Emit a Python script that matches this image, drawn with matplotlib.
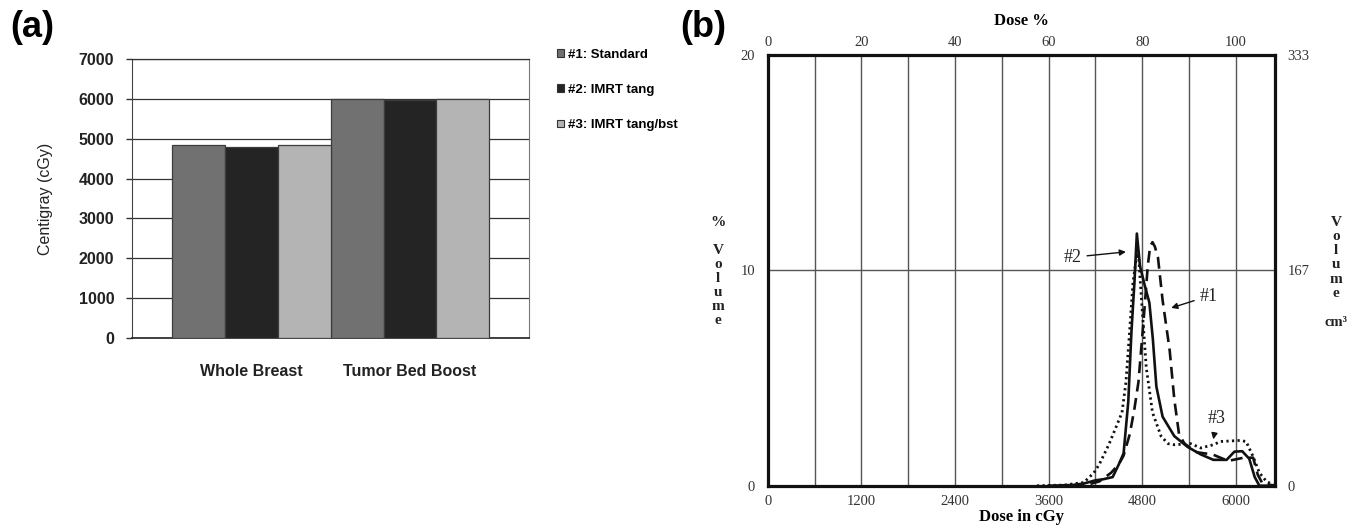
import matplotlib.pyplot as plt
from matplotlib.patches import Patch
import numpy as np

# ---- panel (a): prescribed dose per plan ----
regions = ['Whole Breast', 'Tumor Bed Boost']
plans = ['#1: Standard', '#2: IMRT tang', '#3: IMRT tang/bst']
dose_standard = [4840, 6000]
dose_imrt_tang = [4800, 5960]
dose_imrt_bst = [4840, 5990]
yticks_a = [0, 1000, 2000, 3000, 4000, 5000, 6000, 7000]

# ---- panel (b): differential DVH, dose in cGy vs % volume ----
dose_1 = [3900, 4100, 4250, 4400, 4500, 4560, 4640, 4700, 4750, 4810, 4870, 4900, 4930, 4960,
          5000, 5060, 5150, 5210, 5270, 5340, 5500, 5700, 5900, 6100, 6220, 6280, 6340, 6420, 6500]
vol_1 = [0, 0.05, 0.2, 0.6, 1.0, 1.4, 2.4, 3.6, 4.8, 7.4, 10.2, 11.1, 11.3, 11.1,
         10.6, 8.6, 6.3, 4.0, 2.4, 1.95, 1.55, 1.45, 1.15, 1.3, 1.3, 0.5, 0.1, 0.05, 0]

dose_2 = [3600, 3900, 4050, 4200, 4300, 4420, 4500, 4560, 4620, 4660, 4700, 4730, 4770, 4830, 4890,
          4935, 4980, 5060, 5210, 5380, 5550, 5710, 5880, 5980, 6080, 6170, 6240, 6300, 6500]
vol_2 = [0, 0.03, 0.1, 0.25, 0.3, 0.4, 1.0, 1.5, 3.9, 7.1, 9.5, 11.7, 10.2, 9.3, 8.5,
         6.8, 4.6, 3.2, 2.3, 1.8, 1.45, 1.2, 1.2, 1.58, 1.6, 1.25, 0.4, 0, 0]

dose_3 = [3450, 3800, 4050, 4180, 4250, 4370, 4450, 4540, 4590, 4630, 4680, 4720, 4750, 4790, 4850,
          4930, 5040, 5130, 5210, 5420, 5550, 5710, 5800, 6050, 6130, 6220, 6300, 6390, 6470, 6500]
vol_3 = [0, 0.03, 0.15, 0.6, 1.0, 1.9, 2.6, 3.4, 4.8, 6.8, 9.4, 10.5, 10.8, 8.6, 5.5,
         3.4, 2.3, 1.95, 1.9, 1.95, 1.75, 1.9, 2.05, 2.1, 2.05, 1.35, 0.6, 0.2, 0.05, 0]

dose_ticks = [0, 1200, 2400, 3600, 4800, 6000]
pct_ticks = [0, 20, 40, 60, 80, 100]
cc_ticks = [0, 167, 333]

SANS = 'Liberation Sans'
SERIF = 'Liberation Serif'
W, H = 1347, 525

fig = plt.figure(figsize=(W / 100, H / 100), dpi=100)

# ================= panel (a) =================
ax1 = fig.add_axes([132.3 / W, (H - 338) / H, 396.7 / W, 279 / H])
colors = ['#717171', '#242424', '#b4b4b4']
x = np.arange(len(regions))
bw = 1 / 3
for i, (vals, c) in enumerate(zip([dose_standard, dose_imrt_tang, dose_imrt_bst], colors)):
    ax1.bar(x + (i - 1) * bw, vals, bw, color=c, edgecolor='#3c3c3c', linewidth=0.9, zorder=3)

ax1.set_xlim(-0.75, 1.75)
ax1.set_ylim(0, 7000)
ax1.set_yticks(yticks_a, [str(v) for v in yticks_a], fontfamily=SANS, fontsize=11.5,
               fontweight='bold', color='#222')
ax1.set_xticks(x, regions, fontfamily=SANS, fontsize=11.5, fontweight='bold', color='#222')
ax1.tick_params(axis='y', length=4, width=1, color='#333', pad=9)
ax1.tick_params(axis='x', length=0, pad=19)
ax1.yaxis.grid(True, color='#333', linewidth=0.9)
ax1.set_axisbelow(True)
ax1.spines['top'].set_color('#333')
ax1.spines['top'].set_linewidth(0.9)
ax1.spines['left'].set_color('#444')
ax1.spines['right'].set_color('#777')
ax1.spines['bottom'].set_color('#222')
ax1.spines['bottom'].set_linewidth(1.2)
ax1.set_ylabel('Centigray (cGy)', fontfamily=SANS, fontsize=11.5, color='#222')
ax1.yaxis.set_label_coords(-0.201, 0.5)

handles = [Patch(facecolor=c, edgecolor='#333', linewidth=0.8) for c in colors]
fig.legend(handles, plans, loc='upper left', bbox_to_anchor=(557 / W, 1 - 49 / H),
           frameon=False, prop={'family': SANS, 'size': 9.5, 'weight': 'bold'},
           handlelength=0.55, handleheight=0.55, handletextpad=0.25, labelspacing=1.75,
           borderpad=0, borderaxespad=0)

fig.text(10 / W, 1 - 10 / H, '(a)', fontfamily=SANS, fontsize=26, fontweight='bold',
         va='top', ha='left')

# ================= panel (b) =================
ax2 = fig.add_axes([767.7 / W, (H - 485.7) / H, 507.3 / W, 431 / H])
ax2.plot(dose_1, vol_1, color='#111', lw=1.9, ls=(0, (4.5, 2.5)), zorder=4)
ax2.plot(dose_2, vol_2, color='#111', lw=1.9, ls='-', zorder=5)
ax2.plot(dose_3, vol_3, color='#111', lw=2.0, ls=(0, (0.8, 1.2)), zorder=4)

ax2.set_xlim(0, 6500)
ax2.set_ylim(0, 20)
ax2.set_xticks(dose_ticks, [str(v) for v in dose_ticks], fontfamily=SERIF, fontsize=10.5,
               color='#333')
ax2.set_xticks(np.arange(600, 6001, 600), minor=True)
ax2.set_yticks([0, 10, 20], ['0', '10', '20'], fontfamily=SERIF, fontsize=10.5, color='#333')
ax2.tick_params(which='both', length=0)
ax2.tick_params(axis='x', pad=7)
ax2.tick_params(axis='y', pad=9)
ax2.grid(which='both', axis='x', color='#555', linewidth=1.0)
ax2.grid(which='major', axis='y', color='#555', linewidth=1.0)
for s in ax2.spines.values():
    s.set_linewidth(2.3)
    s.set_color('#111')

top = ax2.secondary_xaxis('top', functions=(lambda d: d / 60, lambda p: p * 60))
top.set_xticks(pct_ticks, [str(v) for v in pct_ticks], fontfamily=SERIF, fontsize=10.5,
               color='#333')
top.tick_params(length=0, pad=4)
top.set_xlabel('Dose %', fontfamily=SERIF, fontsize=12, fontweight='bold', labelpad=8)

right = ax2.secondary_yaxis('right', functions=(lambda v: v * 333.3 / 20, lambda c: c * 20 / 333.3))
right.set_yticks(cc_ticks, [str(v) for v in cc_ticks], fontfamily=SERIF, fontsize=10.5,
                 color='#333')
right.tick_params(length=0, pad=9)
for sec in (top, right):
    for s in sec.spines.values():
        s.set_visible(False)

ax2.set_xlabel('Dose in cGy', fontfamily=SERIF, fontsize=12, fontweight='bold')
ax2.xaxis.set_label_coords(0.5, -0.055)

# stacked axis titles
def stack(xpx, ypx, chars, step):
    for k, ch in enumerate(chars):
        fig.text(xpx / W, 1 - (ypx + k * step) / H, ch, fontfamily=SERIF, fontsize=11,
                 fontweight='bold', ha='center', va='center', color='#222')

stack(718, 223, '%', 0)
stack(718, 250, 'Volume', 14)
stack(1336, 222, 'Volume', 14.3)
fig.text(1336 / W, 1 - 323 / H, 'cm\u00b3', fontfamily=SERIF, fontsize=10.5, fontweight='bold',
         ha='center', va='center', color='#222')

arrow = dict(arrowstyle='-|>', color='#111', lw=1.0, mutation_scale=9, shrinkA=2, shrinkB=0)
tfont = dict(fontfamily=SERIF, fontsize=13, color='#222', ha='center', va='center')
ax2.annotate('#2', xy=(4590, 10.85), xytext=(3906, 10.6), arrowprops=arrow, **tfont)
ax2.annotate('#1', xy=(5170, 8.25), xytext=(5650, 8.8), arrowprops=arrow, **tfont)
ax2.annotate('#3', xy=(5710, 2.15), xytext=(5757, 3.1), arrowprops=arrow, **tfont)

fig.text(680 / W, 1 - 10 / H, '(b)', fontfamily=SANS, fontsize=26, fontweight='bold',
         va='top', ha='left')

fig.savefig('out.png', dpi=100, facecolor='white')
